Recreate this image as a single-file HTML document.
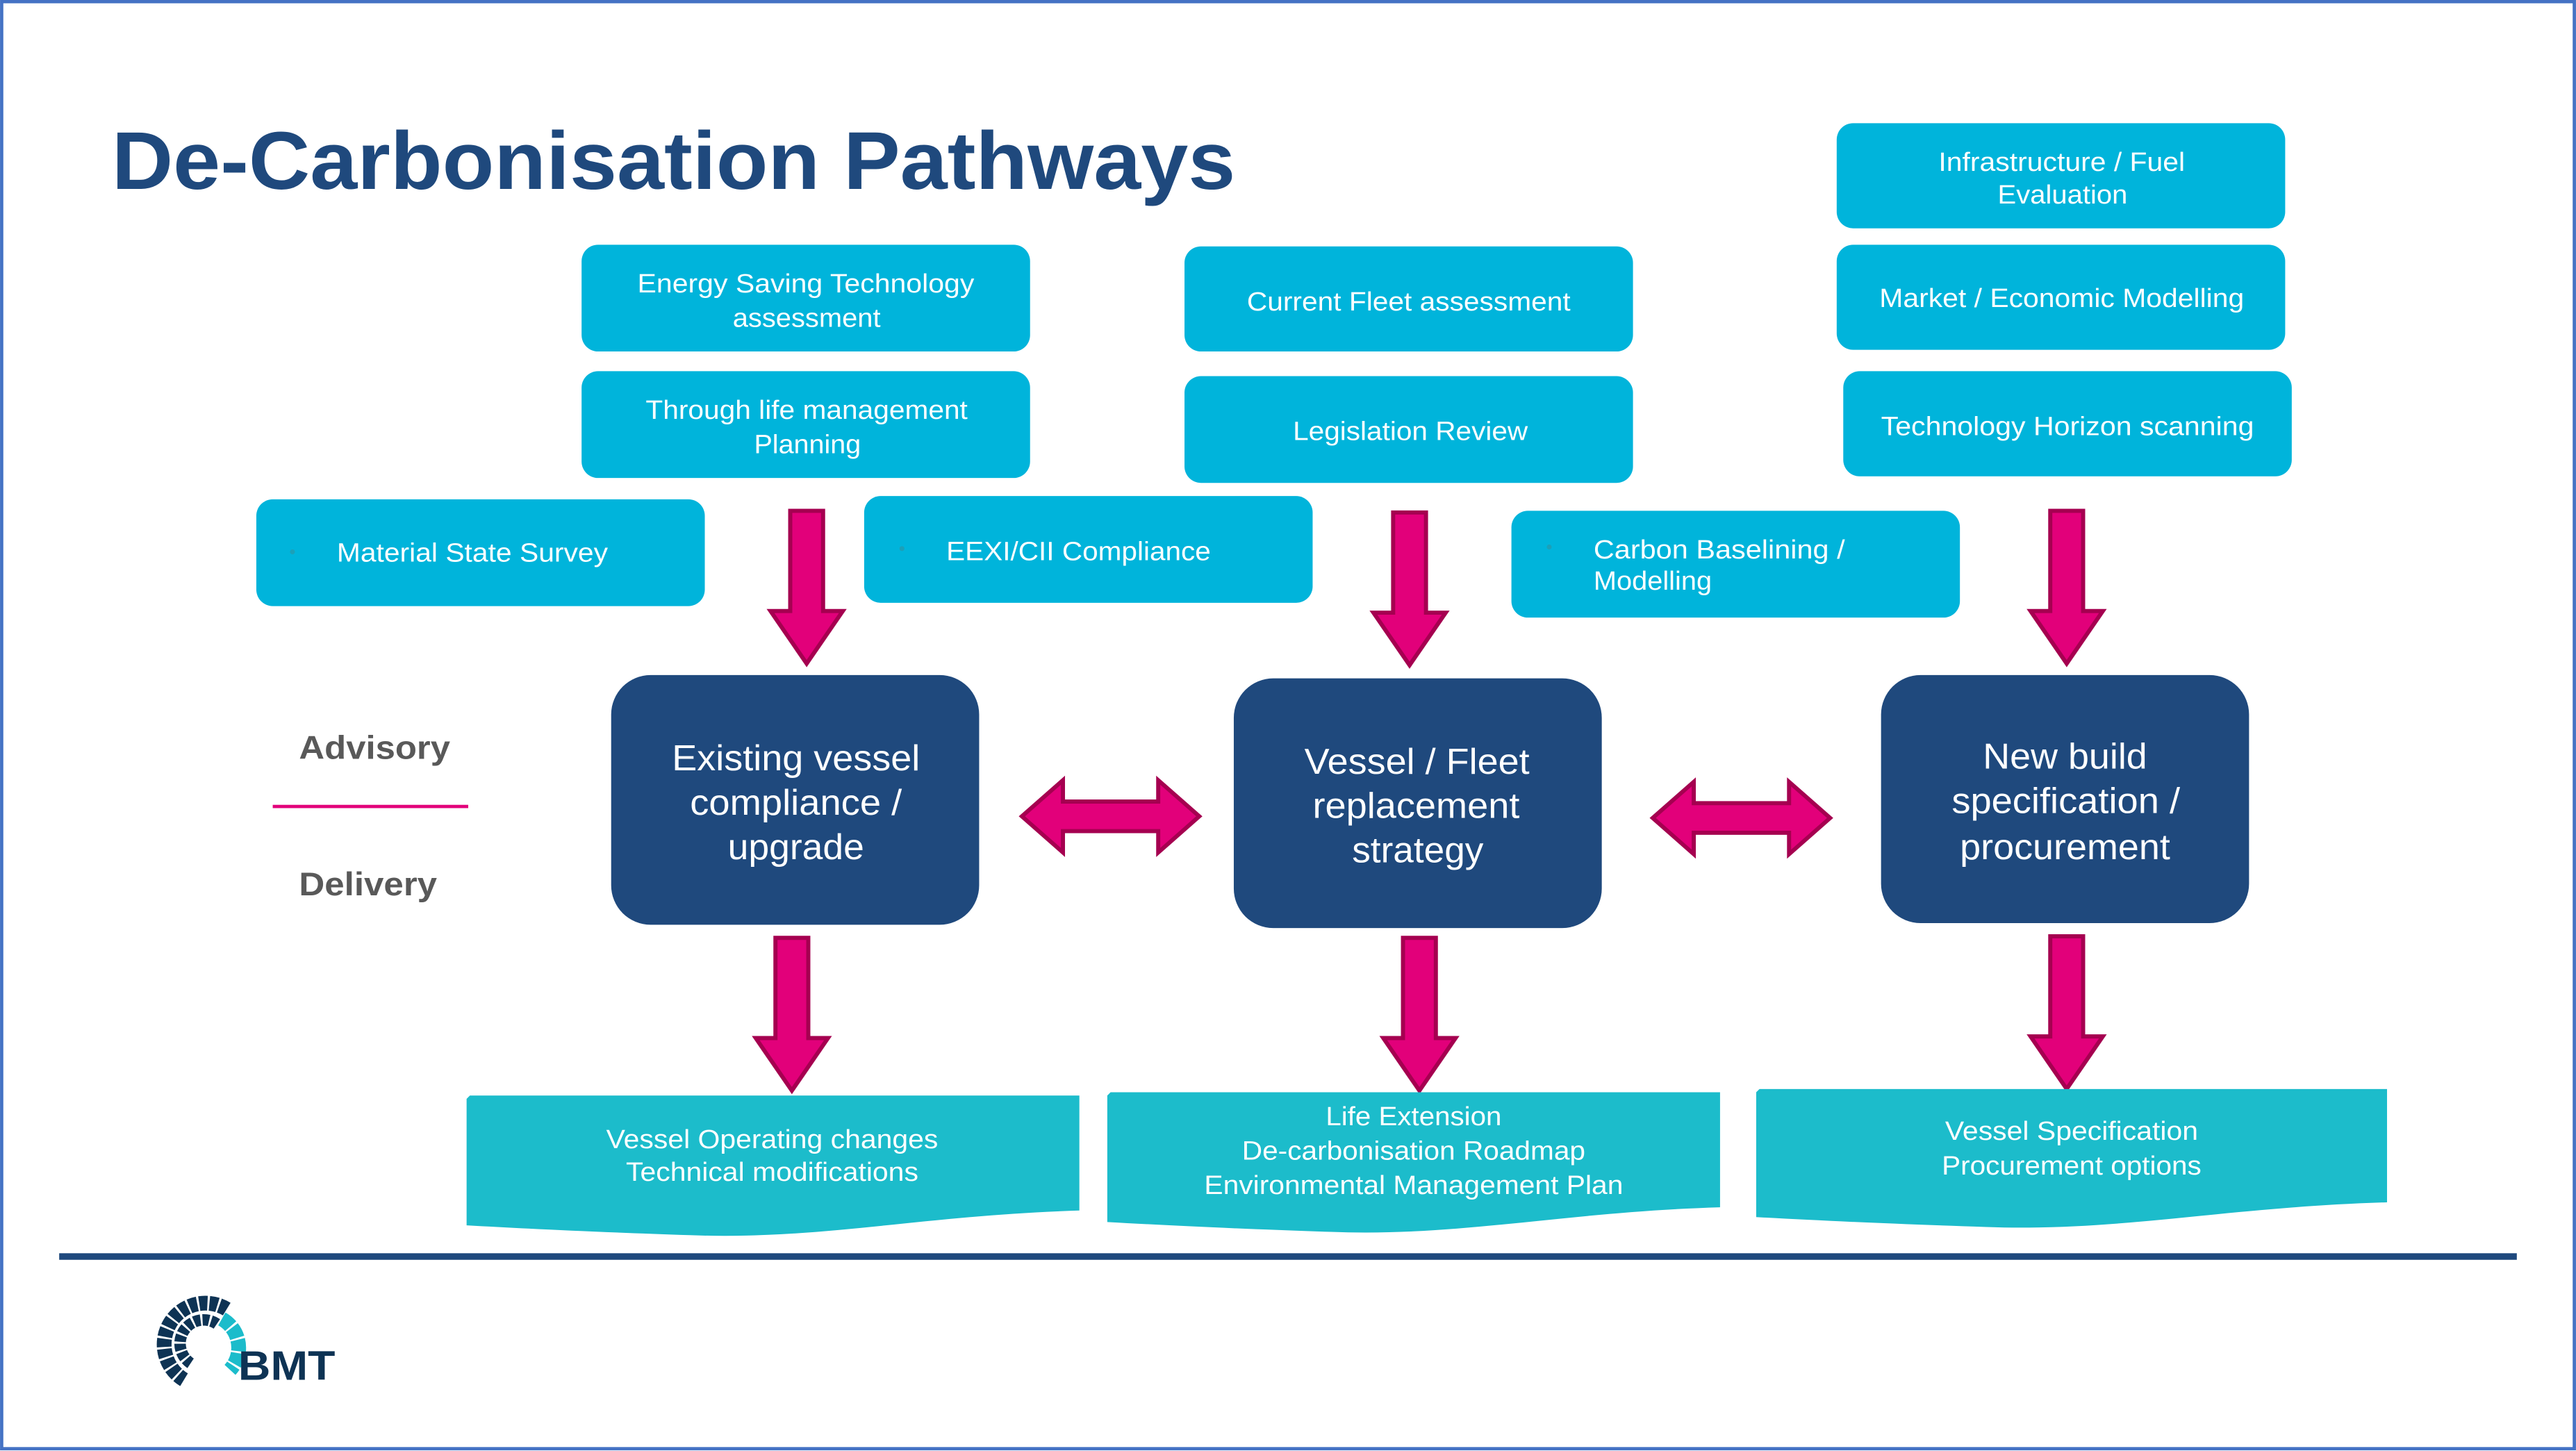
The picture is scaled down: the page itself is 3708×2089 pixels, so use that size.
<!DOCTYPE html>
<html><head><meta charset="utf-8"><style>html,body{margin:0;padding:0;background:#fff}svg{display:block}</style></head>
<body>
<svg width="3708" height="2089" viewBox="0 0 1568 883.4" xmlns="http://www.w3.org/2000/svg" font-family="Liberation Sans, sans-serif">
<rect x="1" y="1" width="1566" height="881" fill="#fff" stroke="#4472C4" stroke-width="2"/>
<text x="68" y="115" font-size="50" font-weight="bold" fill="#1F497D" textLength="684" lengthAdjust="spacingAndGlyphs">De-Carbonisation Pathways</text>

<g fill="#00B4DB">
<rect x="354" y="149" width="273" height="65" rx="10"/>
<rect x="354" y="226" width="273" height="65" rx="10"/>
<rect x="156" y="304" width="273" height="65" rx="10"/>
<rect x="526" y="302" width="273" height="65" rx="10"/>
<rect x="721" y="150" width="273" height="64" rx="10"/>
<rect x="721" y="229" width="273" height="65" rx="10"/>
<rect x="920" y="311" width="273" height="65" rx="10"/>
<rect x="1118" y="75" width="273" height="64" rx="10"/>
<rect x="1118" y="149" width="273" height="64" rx="10"/>
<rect x="1122" y="226" width="273" height="64" rx="10"/>
</g>
<g fill="#1CA0B8"><circle cx="178" cy="336" r="1.5"/><circle cx="549" cy="334" r="1.5"/><circle cx="943" cy="333" r="1.5"/></g>
<g fill="#fff" font-size="16">
<text x="388" y="178" textLength="205" lengthAdjust="spacingAndGlyphs">Energy Saving Technology</text>
<text x="446" y="199" textLength="90" lengthAdjust="spacingAndGlyphs">assessment</text>
<text x="393" y="255" textLength="196" lengthAdjust="spacingAndGlyphs">Through life management</text>
<text x="459" y="276" textLength="65" lengthAdjust="spacingAndGlyphs">Planning</text>
<text x="205" y="342" textLength="165" lengthAdjust="spacingAndGlyphs">Material State Survey</text>
<text x="576" y="341" textLength="161" lengthAdjust="spacingAndGlyphs">EEXI/CII Compliance</text>
<text x="759" y="189" textLength="197" lengthAdjust="spacingAndGlyphs">Current Fleet assessment</text>
<text x="787" y="268" textLength="143" lengthAdjust="spacingAndGlyphs">Legislation Review</text>
<text x="970" y="340" textLength="153" lengthAdjust="spacingAndGlyphs">Carbon Baselining /</text>
<text x="970" y="359" textLength="72" lengthAdjust="spacingAndGlyphs">Modelling</text>
<text x="1180" y="104" textLength="150" lengthAdjust="spacingAndGlyphs">Infrastructure / Fuel</text>
<text x="1216" y="124" textLength="79" lengthAdjust="spacingAndGlyphs">Evaluation</text>
<text x="1144" y="187" textLength="222" lengthAdjust="spacingAndGlyphs">Market / Economic Modelling</text>
<text x="1145" y="265" textLength="227" lengthAdjust="spacingAndGlyphs">Technology Horizon scanning</text>
</g>

<g fill="#1F497D">
<rect x="372" y="411" width="224" height="152" rx="24"/>
<rect x="751" y="413" width="224" height="152" rx="24"/>
<rect x="1145" y="411" width="224" height="151" rx="24"/>
</g>
<g fill="#fff" font-size="22">
<text x="409" y="469" textLength="151" lengthAdjust="spacingAndGlyphs">Existing vessel</text>
<text x="420" y="496" textLength="129" lengthAdjust="spacingAndGlyphs">compliance /</text>
<text x="443" y="523" textLength="83" lengthAdjust="spacingAndGlyphs">upgrade</text>
<text x="794" y="471" textLength="137" lengthAdjust="spacingAndGlyphs">Vessel / Fleet</text>
<text x="799" y="498" textLength="126" lengthAdjust="spacingAndGlyphs">replacement</text>
<text x="823" y="525" textLength="80" lengthAdjust="spacingAndGlyphs">strategy</text>
<text x="1207" y="468" textLength="100" lengthAdjust="spacingAndGlyphs">New build</text>
<text x="1188" y="495" textLength="139" lengthAdjust="spacingAndGlyphs">specification /</text>
<text x="1193" y="523" textLength="128" lengthAdjust="spacingAndGlyphs">procurement</text>
</g>

<defs>
<path id="da" d="M-10 0 H10 V61 H22 L0 93 L-22 61 H-10 Z"/>
</defs>
<g fill="#E2007A" stroke="#A50050" stroke-width="2.5" stroke-linejoin="miter">
<use href="#da" x="491" y="311"/>
<use href="#da" x="858" y="312"/>
<use href="#da" x="1258" y="311"/>
<use href="#da" x="482" y="571"/>
<use href="#da" x="864" y="571"/>
<use href="#da" x="1258" y="570"/>
<path d="M622 497 L647 475 V488 H705 V475 L730 497 L705 519 V506 H647 V519 Z"/>
<path d="M1006 498 L1031 476 V489 H1089 V476 L1114 498 L1089 520 V507 H1031 V520 Z"/>
</g>

<text x="182" y="462" font-size="20" font-weight="bold" fill="#595959" textLength="92" lengthAdjust="spacingAndGlyphs">Advisory</text>
<rect x="166" y="490" width="119" height="2" fill="#E2007A"/>
<text x="182" y="545" font-size="20" font-weight="bold" fill="#595959" textLength="84" lengthAdjust="spacingAndGlyphs">Delivery</text>

<g fill="#1CBCCB">
<path d="M286 667 H657 V737 C560 740 500 755 420 752 C360 750 320 748 284 746 V669 Z"/>
<path d="M676 665 H1047 V735 C950 738 890 753 810 750 C750 748 710 746 674 744 V667 Z"/>
<path d="M1071 663 H1453 V732 C1353 735 1291 750 1209 747 C1147 745 1106 743 1069 741 V665 Z"/>
</g>
<g fill="#fff" font-size="16">
<text x="369" y="699" textLength="202" lengthAdjust="spacingAndGlyphs">Vessel Operating changes</text>
<text x="381" y="719" textLength="178" lengthAdjust="spacingAndGlyphs">Technical modifications</text>
<text x="807" y="685" textLength="107" lengthAdjust="spacingAndGlyphs">Life Extension</text>
<text x="756" y="706" textLength="209" lengthAdjust="spacingAndGlyphs">De-carbonisation Roadmap</text>
<text x="733" y="727" textLength="255" lengthAdjust="spacingAndGlyphs">Environmental Management Plan</text>
<text x="1184" y="694" textLength="154" lengthAdjust="spacingAndGlyphs">Vessel Specification</text>
<text x="1182" y="715" textLength="158" lengthAdjust="spacingAndGlyphs">Procurement options</text>
</g>

<rect x="36" y="763" width="1496" height="4" fill="#1F497D"/>

<g>
<!-- dark outer segmented ring (left/top) -->
<path d="M138 797 A23 23 0 0 0 112 840" fill="none" stroke="#0E3354" stroke-width="9" stroke-dasharray="5 1.2"/>
<path d="M132 806 A13 13 0 0 0 116 830" fill="none" stroke="#0E3354" stroke-width="7" stroke-dasharray="4 1.2"/>
<!-- teal right -->
<path d="M135 803 A20 20 0 0 1 140 834" fill="none" stroke="#1CBCCB" stroke-width="9" stroke-dasharray="7 1.2"/>
<text x="145" y="840" font-size="25" font-weight="bold" fill="#0E3354" textLength="59" lengthAdjust="spacingAndGlyphs">BMT</text>
</g>
</svg>
</body></html>
